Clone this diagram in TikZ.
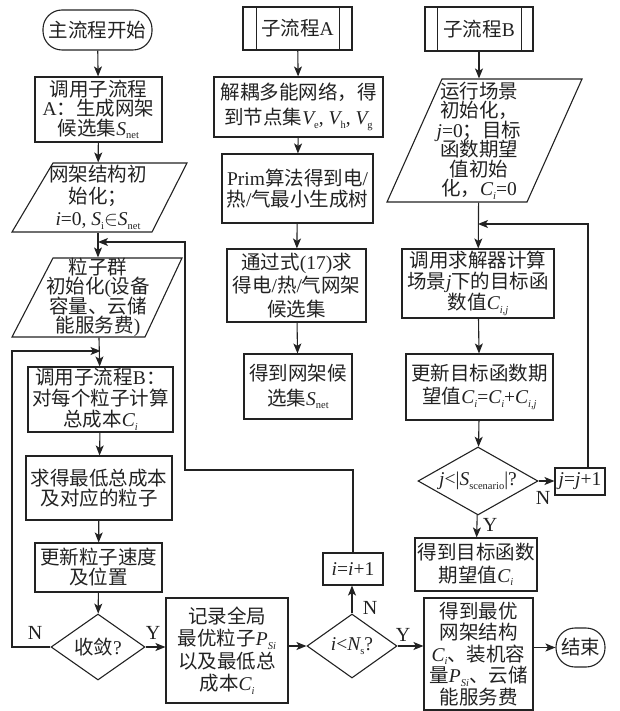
\documentclass[tikz,border=0pt]{standalone}
\usepackage{fontspec}
\setmainfont{Noto Sans CJK SC}
\newfontfamily\tm{Liberation Serif}
\usetikzlibrary{arrows.meta,shapes.geometric}
\definecolor{ink}{HTML}{222222}
% Latin text, italic variables and lowered subscripts
\newcommand\la[1]{{\tm #1}}
\newcommand\vi[1]{{\tm\itshape #1}}
\newcommand\sbr[1]{\raisebox{-3.5pt}{\tm\fontsize{10.5}{10.5}\selectfont #1}}
\newcommand\sbi[1]{\raisebox{-3.5pt}{\tm\itshape\fontsize{10.5}{10.5}\selectfont #1}}
\begin{document}
\setlength{\lineskiplimit}{-50pt}
\begin{tikzpicture}[x=1pt,y=-1pt,line width=1.1pt,color=ink,
  ls/.style={font=\fontsize{19.5}{#1}\selectfont},
  every node/.style={ls=20},
  box/.style={draw,rectangle,inner sep=0pt,align=center},
  term/.style={draw,rectangle,rounded corners=19pt,inner sep=0pt,align=center},
  decision/.style={draw,diamond,inner sep=0pt,align=center,aspect=1},
  paratext/.style={rectangle,inner sep=0pt,align=center},
  flow/.style={-{Stealth[length=10pt,width=8pt,inset=2.5pt]}},
  lab/.style={inner sep=0pt,font=\tm\fontsize{20}{20}\selectfont}]
\useasboundingbox (0,0) rectangle (619,711);

% ---------------- main flow (left) ----------------
\node[term,minimum width=109pt,minimum height=40pt] (start) at (97.5,30) {主流程开始};
\node[box,ls=19.5,minimum width=127pt,minimum height=65pt] (callA) at (98.5,109.5)
  {调用子流程\\\la{A}：生成网架\\候选集\vi{S}\sbr{net}};

\draw (53,163) -- (187,163) -- (152,232) -- (12,232) -- cycle;
\node[paratext,ls=22,minimum height=69pt] (init) at (98,197.5)
  {网架结构初\\始化；\\\vi{i}\la{=0, }\vi{S}\sbr{i}$\in$\vi{S}\sbr{net}};

\draw (53,258) -- (182,258) -- (145,337) -- (12,337) -- cycle;
\node[paratext,ls=19.5,minimum height=79pt] (swarm) at (98,297.5)
  {粒子群\\初始化\la{(}设备\\容量、云储\\能服务费\la{)}};

\node[box,ls=21,minimum width=145pt,minimum height=65pt] (callB) at (100.5,399.5)
  {调用子流程\la{B}：\\对每个粒子计算\\总成本\vi{C}\sbi{i}};
\node[box,ls=19.5,minimum width=146pt,minimum height=64pt] (best) at (99,488)
  {求得最低总成本\\及对应的粒子};
\node[box,ls=20,minimum width=127pt,minimum height=49pt] (upd) at (98.5,567.5)
  {更新粒子速度\\及位置};
\node[decision,minimum width=94pt,minimum height=66pt] (conv) at (98,647)
  {\makebox[0pt]{收敛\la{?}}};

\node[box,ls=22.5,minimum width=122pt,minimum height=105pt] (rec) at (227,650.5)
  {记录全局\\最优粒子\vi{P}\sbi{Si}\\以及最低总\\成本\vi{C}\sbi{i}};
\node[decision,minimum width=90pt,minimum height=64pt] (idiam) at (352,646)
  {\makebox[0pt]{\vi{i}\la{<}\vi{N}\sbr{s}\la{?}}};
\node[box,minimum width=60pt,minimum height=32pt] (iinc) at (353,569)
  {\vi{i}\la{=}\vi{i}\la{+1}};
\node[box,ls=21.5,minimum width=109pt,minimum height=112pt] (fin) at (478.5,654)
  {得到最优\\网架结构\\\vi{C}\sbi{i}、装机容\\量\vi{P}\sbi{Si}、云储\\能服务费};
\node[term,minimum width=49pt,minimum height=39pt] (stop) at (580.5,647.5) {结束};

% ---------------- sub-flow A (middle) ----------------
\node[box,minimum width=109pt,minimum height=43pt] (subA) at (297.5,28.5) {子流程\la{A}};
\draw ([xshift=14pt]subA.north west) -- ([xshift=14pt]subA.south west)
      ([xshift=-13pt]subA.north east) -- ([xshift=-13pt]subA.south east);
\node[box,ls=25,minimum width=169pt,minimum height=60pt] (dec) at (298.5,107)
  {解耦多能网络，得\\到节点集\vi{V}\sbr{e}\la{, }\vi{V}\sbr{h}\la{, }\vi{V}\sbr{g}};
\node[box,ls=21,minimum width=151pt,minimum height=69pt] (prim) at (297.5,188.5)
  {\la{Prim}算法得到电\la{/}\\热\la{/}气最小生成树};
\node[box,ls=23.5,minimum width=139pt,minimum height=73pt] (via) at (296.5,285.5)
  {通过式\la{(17)}求\\得电\la{/}热\la{/}气网架\\候选集};
\node[box,ls=25,minimum width=108pt,minimum height=65pt] (getS) at (298,386.5)
  {得到网架候\\选集\vi{S}\sbr{net}};

% ---------------- sub-flow B (right) ----------------
\node[box,minimum width=108pt,minimum height=44pt] (subB) at (479,29) {子流程\la{B}};
\draw ([xshift=13pt]subB.north west) -- ([xshift=13pt]subB.south west)
      ([xshift=-12pt]subB.north east) -- ([xshift=-12pt]subB.south east);
\draw (442,79) -- (582,79) -- (527,202) -- (387,202) -- cycle;
\node[paratext,ls=19.5,minimum height=123pt] (scen) at (479,140.5)
  {运行场景\\初始化，\\\vi{j}\la{=0}；目标\\函数期望\\值初始\\化，\vi{C}\sbi{i}\la{=0}};
\node[box,ls=21,minimum width=152pt,minimum height=69pt] (solv) at (478,283.5)
  {调用求解器计算\\场景\vi{j}下的目标函\\数值\vi{C}\sbi{i,j}};
\node[box,ls=23,minimum width=147pt,minimum height=66pt] (updE) at (479.5,387)
  {更新目标函数期\\望值\vi{C}\sbi{i}\la{=}\vi{C}\sbi{i}\la{+}\vi{C}\sbi{i,j}};
\node[decision,minimum width=120pt,minimum height=68pt] (jdiam) at (478,481)
  {\makebox[0pt]{\vi{j}\la{<|}\vi{S}\sbr{scenario}\la{|?}}};
\node[box,minimum width=50pt,minimum height=27pt] (jinc) at (580,481.5)
  {\vi{j}\la{=}\vi{j}\la{+1}};
\node[box,ls=23,minimum width=122pt,minimum height=53pt] (getE) at (476,564.5)
  {得到目标函数\\期望值\vi{C}\sbi{i}};

% ---------------- loop corners ----------------
\coordinate (loopA) at (185,470);
\coordinate (loopB) at (185,242);
\coordinate (loopC) at (12,351);
\coordinate (loopD) at (588,224);

% ---------------- connectors ----------------
\draw[flow] (start) -- (callA);
\draw[flow] (callA) -- (init);
\draw[flow] (init) -- (swarm);
\draw[flow] (swarm) -- (callB);
\draw[flow] (callB) -- (best);
\draw[flow] (best) -- (upd);
\draw[flow] (upd) -- (conv);
\draw[flow] (conv.east) -- (conv.east -| rec.west);
\draw[flow] (rec.east |- idiam.west) -- (idiam.west);
\draw[flow] (idiam.north) -- (idiam.north |- iinc.south);
\draw[flow] (idiam.east) -- (idiam.east -| fin.west);
\draw[flow] (fin.east |- stop.west) -- (stop.west);
\draw[flow] (iinc.north) |- (loopA) -- (loopB) -- (loopB -| swarm.north);
\draw[flow] (conv.west) -| (loopC) -- (loopC -| callB.north);

\draw[flow] (subA) -- (dec);
\draw[flow] (dec) -- (prim);
\draw[flow] (prim) -- (via);
\draw[flow] (via) -- (getS);

\draw[flow] (subB) -- (scen);
\draw[flow] (scen) -- (solv);
\draw[flow] (solv) -- (updE);
\draw[flow] (updE) -- (jdiam);
\draw[flow] (jdiam.east) -- (jdiam.east -| jinc.west);
\draw[flow] (jdiam) -- (getE);
\draw[flow] (loopD |- jinc.north) -- (loopD) -- (loopD -| solv.north);

% ---------------- branch labels ----------------
\node[lab] (nConv) at (35,633) {N};
\node[lab] (yConv) at (153,633) {Y};
\node[lab] (nI) at (370,608) {N};
\node[lab] (yI) at (403,635) {Y};
\node[lab] (nJ) at (543,498) {N};
\node[lab] (yJ) at (490,525) {Y};
\end{tikzpicture}
\end{document}
